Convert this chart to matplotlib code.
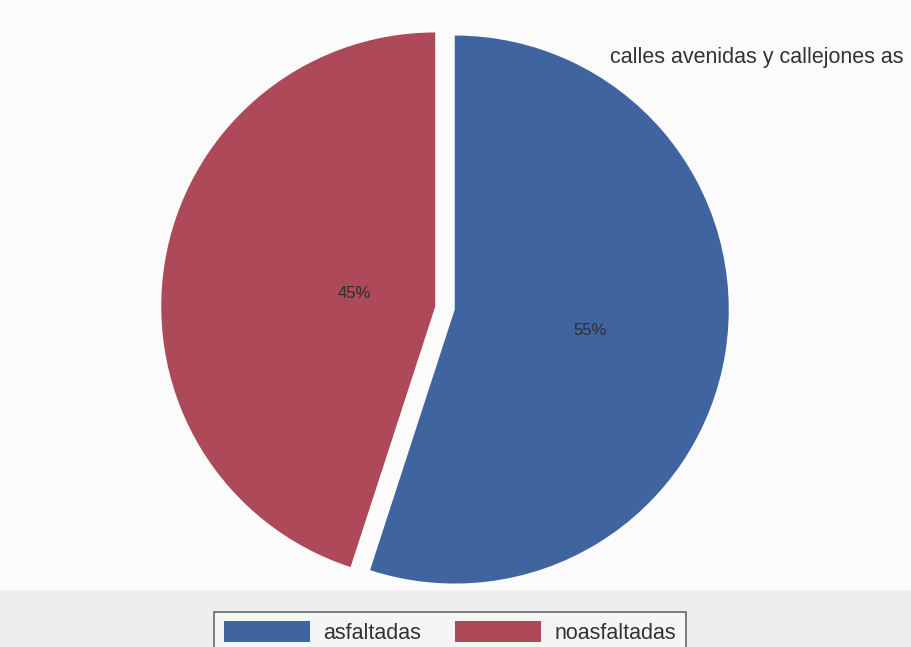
import matplotlib
matplotlib.use("Agg")
import matplotlib.pyplot as plt
from matplotlib.patches import Rectangle
import numpy as np

# Data
categories = ["asfaltadas", "noasfaltadas"]
values = [55, 45]
colors = ["#3F64A0", "#AD4959"]
title_text = "calles avenidas y callejones as"
label_dist = [0.50, 0.30]

W, H = 911, 647
fig = plt.figure(figsize=(W / 100, H / 100), dpi=100, facecolor="#FBFBFB")
plt.rcParams['font.family'] = ['Liberation Sans', 'DejaVu Sans']

# light gray strip at bottom
fig.patches.append(Rectangle((0, 0), 1, 57 / H, transform=fig.transFigure,
                             facecolor="#EEEEEE", edgecolor="none", zorder=0))

# axes: pie centre at (445, 308) px, radius 274 px, limits +-1.1
cx, cy, R = 445, 308, 274
half = 1.1 * R
ax = fig.add_axes([(cx - half) / W, (H - cy - half) / H, 2 * half / W, 2 * half / H])
ax.set_xlim(-1.1, 1.1)
ax.set_ylim(-1.1, 1.1)
ax.axis("off")

wedges, texts, autotexts = ax.pie(values, colors=colors, startangle=90, counterclock=False,
                                  explode=[0.036, 0.036], autopct="%1.0f%%",
                                  textprops=dict(color="#2E2E2E", fontsize=12),
                                  wedgeprops=dict(linewidth=0))
for w, t, d in zip(wedges, autotexts, label_dist):
    th = np.deg2rad((w.theta1 + w.theta2) / 2)
    c = w.center
    t.set_position((c[0] + d * w.r * np.cos(th), c[1] + d * w.r * np.sin(th)))
ax.set_xlim(-1.1, 1.1)
ax.set_ylim(-1.1, 1.1)

fig.text(610 / W, 1 - 58 / H, title_text, ha="left", va="center", fontsize=15.5, color="#333333")

leg = fig.legend(wedges, categories, loc="upper center", ncol=2,
                 bbox_to_anchor=(450 / W, 1 - 601 / H), frameon=True,
                 fontsize=15.5, handlelength=4.0, handleheight=1.1, columnspacing=1.6,
                 handletextpad=0.6, borderpad=0.45, fancybox=False)
leg.get_frame().set_edgecolor("#444444")
leg.get_frame().set_linewidth(1.2)
leg.get_frame().set_facecolor("#F8F8F8")
for t in leg.get_texts():
    t.set_color("#333333")

fig.savefig("out.png", dpi=100, facecolor=fig.get_facecolor())
